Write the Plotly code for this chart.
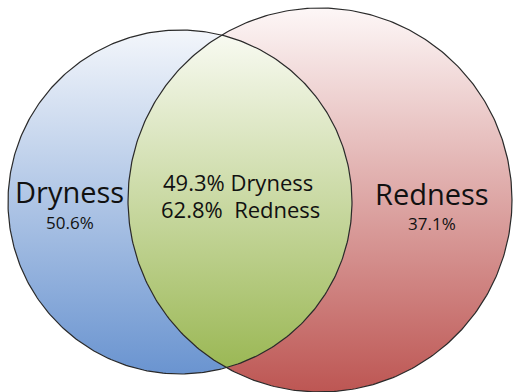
import numpy as np
import plotly.graph_objects as go

# ---- data ----
set_names = ["Dryness", "Redness"]
only_pct = ["50.6%", "37.1%"]
overlap_pct = ["49.3%", "62.8%"]

# ---- geometry (pixel-like units, y up) ----
W, H = 513, 392
cL = (180.0, 392 - 202.0); rL = 172.0
cR = (320.0, 392 - 200.0); rR = 192.0

FONT = "Open Sans"

def circle(c, r, n=400):
    t = np.linspace(0, 2 * np.pi, n)
    return c[0] + r * np.cos(t), c[1] + r * np.sin(t)

# intersection of the circles
dx, dy = cR[0] - cL[0], cR[1] - cL[1]
d = np.hypot(dx, dy)
a = (rL**2 - rR**2 + d**2) / (2 * d)
h = np.sqrt(rL**2 - a**2)
px, py = cL[0] + a * dx / d, cL[1] + a * dy / d
p1 = (px - h * dy / d, py + h * dx / d)
p2 = (px + h * dy / d, py - h * dx / d)

def ang(c, p):
    return np.arctan2(p[1] - c[1], p[0] - c[0])

def arc(c, r, a0, a1, n=200):
    t = np.linspace(a0, a1, n)
    return list(c[0] + r * np.cos(t)), list(c[1] + r * np.sin(t))

aL1, aL2 = ang(cL, p1), ang(cL, p2)
if aL1 < aL2:
    aL1 += 2 * np.pi
x1, y1 = arc(cL, rL, aL2, aL1)
aR1, aR2 = ang(cR, p1), ang(cR, p2)
if aR2 < aR1:
    aR2 += 2 * np.pi
x2, y2 = arc(cR, rR, aR1, aR2)
lx, ly = x1 + x2, y1 + y2

fig = go.Figure()

def grad(bottom, top, y0, y1):
    return dict(type="vertical", colorscale=[[0, bottom], [1, top]], start=y0, stop=y1)

xl, yl = circle(cL, rL)
fig.add_trace(go.Scatter(x=xl, y=yl, fill="toself", mode="lines", line=dict(width=0),
                         fillgradient=grad("#6a94d0", "#f3f6fb", cL[1] - rL, cL[1] + rL),
                         hoverinfo="skip", showlegend=False))
xr, yr = circle(cR, rR)
fig.add_trace(go.Scatter(x=xr, y=yr, fill="toself", mode="lines", line=dict(width=0),
                         fillgradient=grad("#bd5653", "#fdf7f7", cR[1] - rR, cR[1] + rR),
                         hoverinfo="skip", showlegend=False))
fig.add_trace(go.Scatter(x=lx, y=ly, fill="toself", mode="lines", line=dict(width=0),
                         fillgradient=grad("#9bb855", "#f8faf1", min(ly), max(ly)),
                         hoverinfo="skip", showlegend=False))
for (xx, yy) in [(xl, yl), (xr, yr)]:
    fig.add_trace(go.Scatter(x=xx, y=yy, mode="lines", line=dict(color="#2a2a2a", width=1.2),
                             hoverinfo="skip", showlegend=False))

def txt(x, y, s, size):
    fig.add_annotation(x=x, y=392 - y, text=s, showarrow=False, xanchor="center", yanchor="middle",
                       font=dict(family=FONT, size=size, color="#111111"))

txt(69, 191, set_names[0], 29)
txt(70, 222, only_pct[0], 17)
txt(432, 193, set_names[1], 29)
txt(432, 223, only_pct[1], 17)
txt(238, 182, f"{overlap_pct[0]} {set_names[0]}", 22)
txt(240, 209, f"{overlap_pct[1]}&nbsp;&nbsp;{set_names[1]}", 22)

fig.update_layout(width=W, height=H, margin=dict(l=0, r=0, t=0, b=0),
                  paper_bgcolor="white", plot_bgcolor="white",
                  xaxis=dict(range=[0, W], visible=False, fixedrange=True),
                  yaxis=dict(range=[0, H], visible=False, fixedrange=True))
fig.write_html("out.html")
